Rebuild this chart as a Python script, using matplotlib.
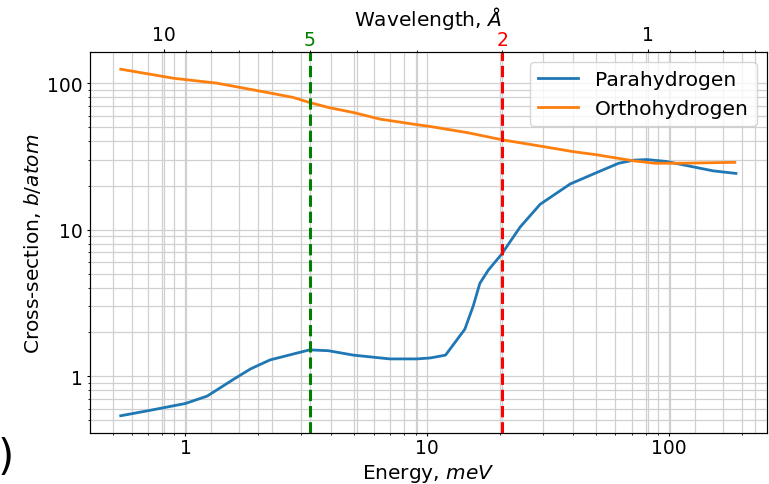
import numpy as np
import matplotlib
matplotlib.use('Agg')
from matplotlib import pyplot as plt

# energy (meV) -> wavelength (A):  lambda = sqrt(81.81 / E)
E_TO_LAMBDA = 81.81

# parahydrogen
para_energy = [0.54, 0.70, 1.0, 1.23, 1.58, 1.86, 2.24, 3.26, 3.9, 4.95, 7.0,
               9.05, 10.3, 11.9, 14.3, 15.5, 16.5, 17.9, 20.3, 24.2, 29.3,
               39.0, 50.4, 61.9, 71.3, 80.9, 97.6, 110.6, 152.0, 189.0]
para_xs = [0.536, 0.58, 0.65, 0.73, 0.95, 1.12, 1.29, 1.51, 1.49, 1.39, 1.31,
           1.31, 1.33, 1.39, 2.09, 3.02, 4.3, 5.3, 6.8, 10.4, 14.9,
           20.5, 24.6, 28.4, 29.8, 30.1, 29.2, 28.0, 25.2, 24.2]

# orthohydrogen
ortho_energy = [0.54, 0.895, 1.35, 2.18, 2.80, 3.26, 3.91, 4.96, 6.39, 8.77,
                10.3, 14.6, 20.5, 29.9, 39.6, 50.4, 71.3, 87.1, 110.6, 187.0]
ortho_xs = [124.6, 108.0, 100.0, 86.4, 79.8, 73.8, 68.2, 63.0, 56.8, 52.5,
            50.6, 46.0, 41.0, 37.0, 34.2, 32.4, 29.5, 28.4, 28.4, 28.8]

# wavelength axis (A): plain labels and the two marked wavelengths
top_ticks = [10, 1]
top_tick_labels = ['10', '1']
top_minor = [0.6, 0.7, 0.8, 0.9, 2, 3, 4, 5, 6, 7, 8, 9]
marked_lambda = [5, 2]
marked_colors = ['green', 'red']

FS_TICK = 13.5
FS_LABEL = 14.5

fig = plt.figure(figsize=(7.69, 4.85), dpi=100)
ax = fig.add_axes([0.117, 0.105, 0.88, 0.786])

ax.plot(para_energy, para_xs, color='tab:blue', lw=2, label='Parahydrogen')
ax.plot(ortho_energy, ortho_xs, color='tab:orange', lw=2, label='Orthohydrogen')
ax.set_xscale('log')
ax.set_yscale('log')

for lam, c in zip(marked_lambda, marked_colors):
    ax.axvline(E_TO_LAMBDA / lam**2, color=c, ls='--', lw=2.2)

ax.grid(True, which='both', color='#d0d0d0', lw=0.9)
ax.set_xlabel('Energy, $meV$', fontsize=FS_LABEL, labelpad=4)
ax.set_ylabel('Cross-section, $b/atom$', fontsize=FS_LABEL, labelpad=3)
ax.tick_params(labelsize=FS_TICK, length=2.5, pad=2.5)
ax.tick_params(axis='x', pad=1)
ax.tick_params(which='minor', length=1.5)
ax.set_xticks([1, 10, 100], ['1', '10', '100'])
ax.set_yticks([1, 10, 100], ['1', '10', '100'])
ax.legend(loc='upper right', fontsize=14.6)

# wavelength axis on top
xmin, xmax = ax.get_xlim()
ax2 = ax.twiny()
ax2.set_xscale('log')
ax2.set_xlim(np.sqrt(E_TO_LAMBDA / xmin), np.sqrt(E_TO_LAMBDA / xmax))
ax2.grid(True, which='both', color='#d0d0d0', lw=0.9)
ax2.set_xticks(top_ticks, top_tick_labels)
minor_labels = [str(v) if v in marked_lambda else '' for v in top_minor]
ax2.set_xticks(top_minor, minor_labels, minor=True)
ax2.tick_params(which='major', labelsize=FS_TICK, length=2.5, pad=3.5)
ax2.tick_params(which='minor', labelsize=FS_TICK, length=1.5, pad=0.8)
for lbl in ax2.get_xticklabels(minor=True):
    for lam, c in zip(marked_lambda, marked_colors):
        if lbl.get_text() == str(lam):
            lbl.set_color(c)
ax2.set_xlabel('Wavelength, $\\it{Å}$', fontsize=FS_LABEL, labelpad=0)

# keep data and legend above the top-axis grid
ax.set_zorder(ax2.get_zorder() + 1)
ax.patch.set_visible(False)

fig.text(-0.003, 0.03, ')', fontsize=30)

fig.savefig('out.png', dpi=100)
